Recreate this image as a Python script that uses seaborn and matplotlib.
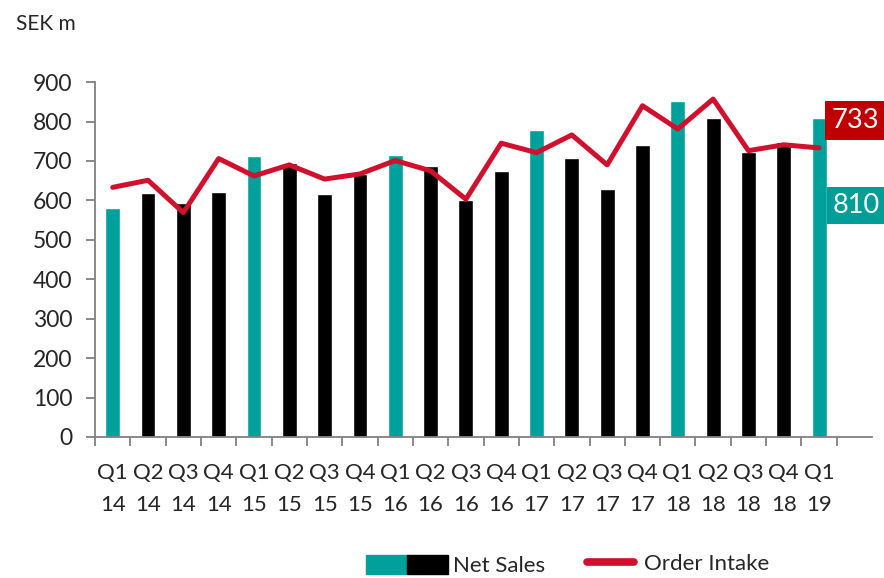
import numpy as np
import pandas as pd
import matplotlib
matplotlib.use("Agg")
import matplotlib.pyplot as plt
import seaborn as sns
from matplotlib.patches import Patch
from matplotlib.lines import Line2D
from matplotlib.legend_handler import HandlerTuple

# Data
quarters = ["Q1", "Q2", "Q3", "Q4"] * 5 + ["Q1"]
years = ["14"] * 4 + ["15"] * 4 + ["16"] * 4 + ["17"] * 4 + ["18"] * 4 + ["19"]
net_sales = [581, 619, 593, 622, 713, 696, 617, 667, 716, 686, 600,
             675, 779, 708, 630, 740, 852, 810, 722, 749, 810]
order_intake = [633, 651, 569, 706, 662, 690, 654, 667, 701, 675, 603,
                745, 721, 766, 690, 840, 781, 857, 726, 741, 733]

teal = "#00A19A"
red = "#D0102C"

df = pd.DataFrame({
    "label": [f"{q}\n{y}" for q, y in zip(quarters, years)],
    "sales": net_sales,
    "kind": ["Q1" if q == "Q1" else "other" for q in quarters],
})

sns.set_style("white")
plt.rcParams["font.family"] = ["Lato", "DejaVu Sans"]

fig = plt.figure(figsize=(8.84, 5.78), dpi=100)
ax = fig.add_axes([0.1075, 0.244, 0.879, 0.614])

sns.barplot(data=df, x="label", y="sales", hue="kind",
            palette={"Q1": teal, "other": "black"}, width=0.42,
            saturation=1, dodge=False, legend=False, ax=ax)
sns.lineplot(x=np.arange(len(order_intake)), y=order_intake, color=red,
             linewidth=3.6, ax=ax)

n = len(net_sales)
ax.set_xlim(-0.5, n + 0.5)
ax.set_ylim(0, 900)
ax.set_yticks(range(0, 901, 100))
ax.set_xlabel("")
ax.set_ylabel("")
for s in ["top", "right"]:
    ax.spines[s].set_visible(False)
for s in ["left", "bottom"]:
    ax.spines[s].set_color("#808080")
    ax.spines[s].set_linewidth(1.3)
ax.tick_params(axis="y", labelsize=16.5, length=6.5, width=1.3, color="#808080",
               left=True, pad=10)
ax.tick_params(axis="x", which="major", labelsize=16, length=0, pad=19)
ax.set_xticks(np.arange(-0.5, n), minor=True)
ax.tick_params(axis="x", which="minor", length=6.5, width=1.3, color="#808080",
               bottom=True)
for t in ax.get_xticklabels():
    t.set_linespacing(1.73)

fig.text(0.018, 0.958, "SEK m", fontsize=15, va="center", ha="left")

# end value boxes
ax.text(n + 0.03, 802, "733", fontsize=19.5, color="white", ha="center",
        va="center", bbox=dict(boxstyle="square,pad=0.25", fc="#C00000", ec="none"))
ax.text(n + 0.06, 588, "810", fontsize=19.5, color="white", ha="center",
        va="center", bbox=dict(boxstyle="square,pad=0.22", fc="#009E96", ec="none"))

fig.legend([(Patch(color=teal), Patch(color="black"))], ["Net Sales"],
           handler_map={tuple: HandlerTuple(ndivide=None, pad=0)},
           loc="center", bbox_to_anchor=(0.515, 0.021), frameon=False,
           fontsize=16, handlelength=3.7, handleheight=0.9,
           handletextpad=0.2)
fig.legend([Line2D([0], [0], color=red, linewidth=5.5)], ["Order Intake"],
           loc="center", bbox_to_anchor=(0.767, 0.024), frameon=False,
           fontsize=16, handlelength=2.1, handletextpad=0.45)

fig.savefig("out.png", dpi=100)
